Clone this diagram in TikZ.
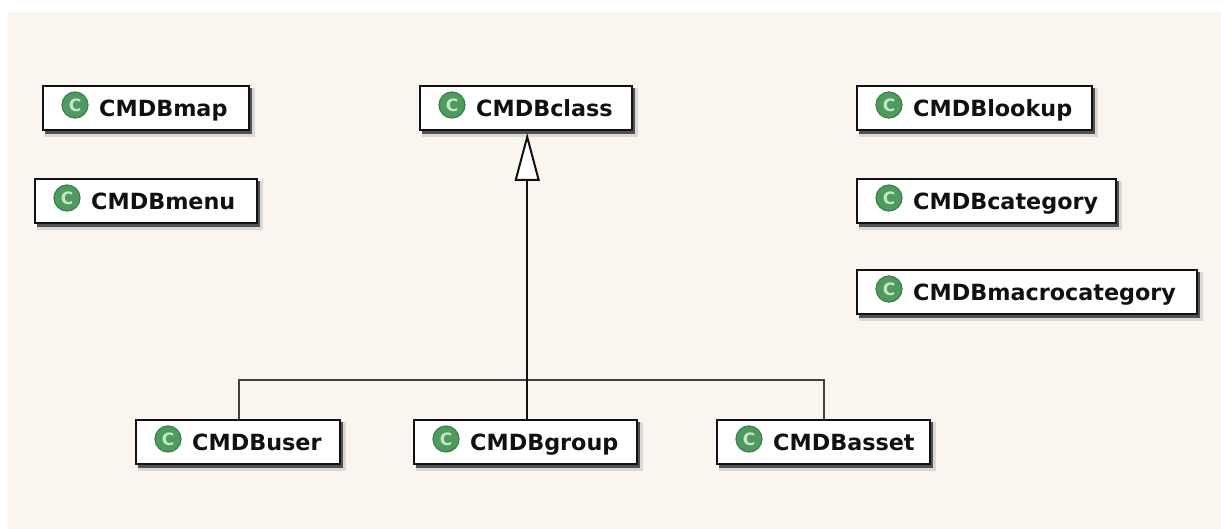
\documentclass[tikz,border=0pt]{standalone}
\usepackage{fontspec}
\setmainfont{DejaVu Sans}
\usetikzlibrary{arrows.meta}
\definecolor{paper}{HTML}{FAF6EF}
\definecolor{ink}{HTML}{111111}
\definecolor{badge}{HTML}{4F9A5F}
\definecolor{badgeedge}{HTML}{3F7F4E}
\definecolor{badgetext}{HTML}{C5E5CB}
\tikzset{
  classbox/.style={draw=ink,line width=2pt,fill=white,inner sep=0pt,rectangle,anchor=north west},
  badgedot/.style={circle,fill=badge,draw=badgeedge,line width=1.2pt,minimum size=26pt,inner sep=0pt,
    text=badgetext,font=\bfseries\fontsize{17}{17}\selectfont},
  classlabel/.style={anchor=base west,inner sep=0pt,text=ink,font=\bfseries\fontsize{22.3}{24}\selectfont},
  inherit/.style={draw=ink,line width=2pt},
  greyline/.style={draw=ink!80,line width=2.4pt}
}
% name, left, top, right, bottom, text
\newcommand{\classnode}[6]{%
  \fill[black!15] (#2+3,#3+3) rectangle (#4+6,#5+7);
  \fill[black!68] (#2+3,#3+3) rectangle (#4+3,#5+4);
  \node[classbox,minimum width=#4pt-#2pt-1pt,minimum height=#5pt-#3pt-1pt] (#1) at (#2,#3) {};
  \node[badgedot] (#1icon) at (#2+33,#3+20) {C};
  \node[classlabel] (#1label) at (#2+57,#3+31.5) {#6};
}
\begin{document}
\begin{tikzpicture}[x=1pt,y=-1pt]
\useasboundingbox (0,0) rectangle (1221,529);
\fill[white] (0,0) rectangle (1221,529);
\fill[paper] (8,12) rectangle (1221,529);
\classnode{map}{42}{85}{249}{130}{CMDBmap}
\classnode{menu}{34}{178}{257}{223}{CMDBmenu}
\classnode{class}{419}{85}{632}{130}{CMDBclass}
\classnode{lookup}{856}{85}{1092}{130}{CMDBlookup}
\classnode{category}{856}{178}{1116}{223}{CMDBcategory}
\classnode{macro}{856}{269}{1197}{314}{CMDBmacrocategory}
\classnode{user}{135}{419}{340}{464}{CMDBuser}
\classnode{group}{413}{419}{637}{464}{CMDBgroup}
\classnode{asset}{716}{419}{930}{464}{CMDBasset}
\coordinate (leftdrop) at (239,380);
\coordinate (hub) at (527.2,380);
\coordinate (rightdrop) at (824,380);
\draw[greyline] (leftdrop |- user.north) -- (leftdrop) -- (rightdrop) -- (rightdrop |- asset.north);
\draw[inherit,-{Triangle[open,fill=white,length=48pt,width=25pt,line width=2pt]},shorten >=2pt] (hub |- group.north) -- (hub |- class.south);
\end{tikzpicture}
\end{document}
